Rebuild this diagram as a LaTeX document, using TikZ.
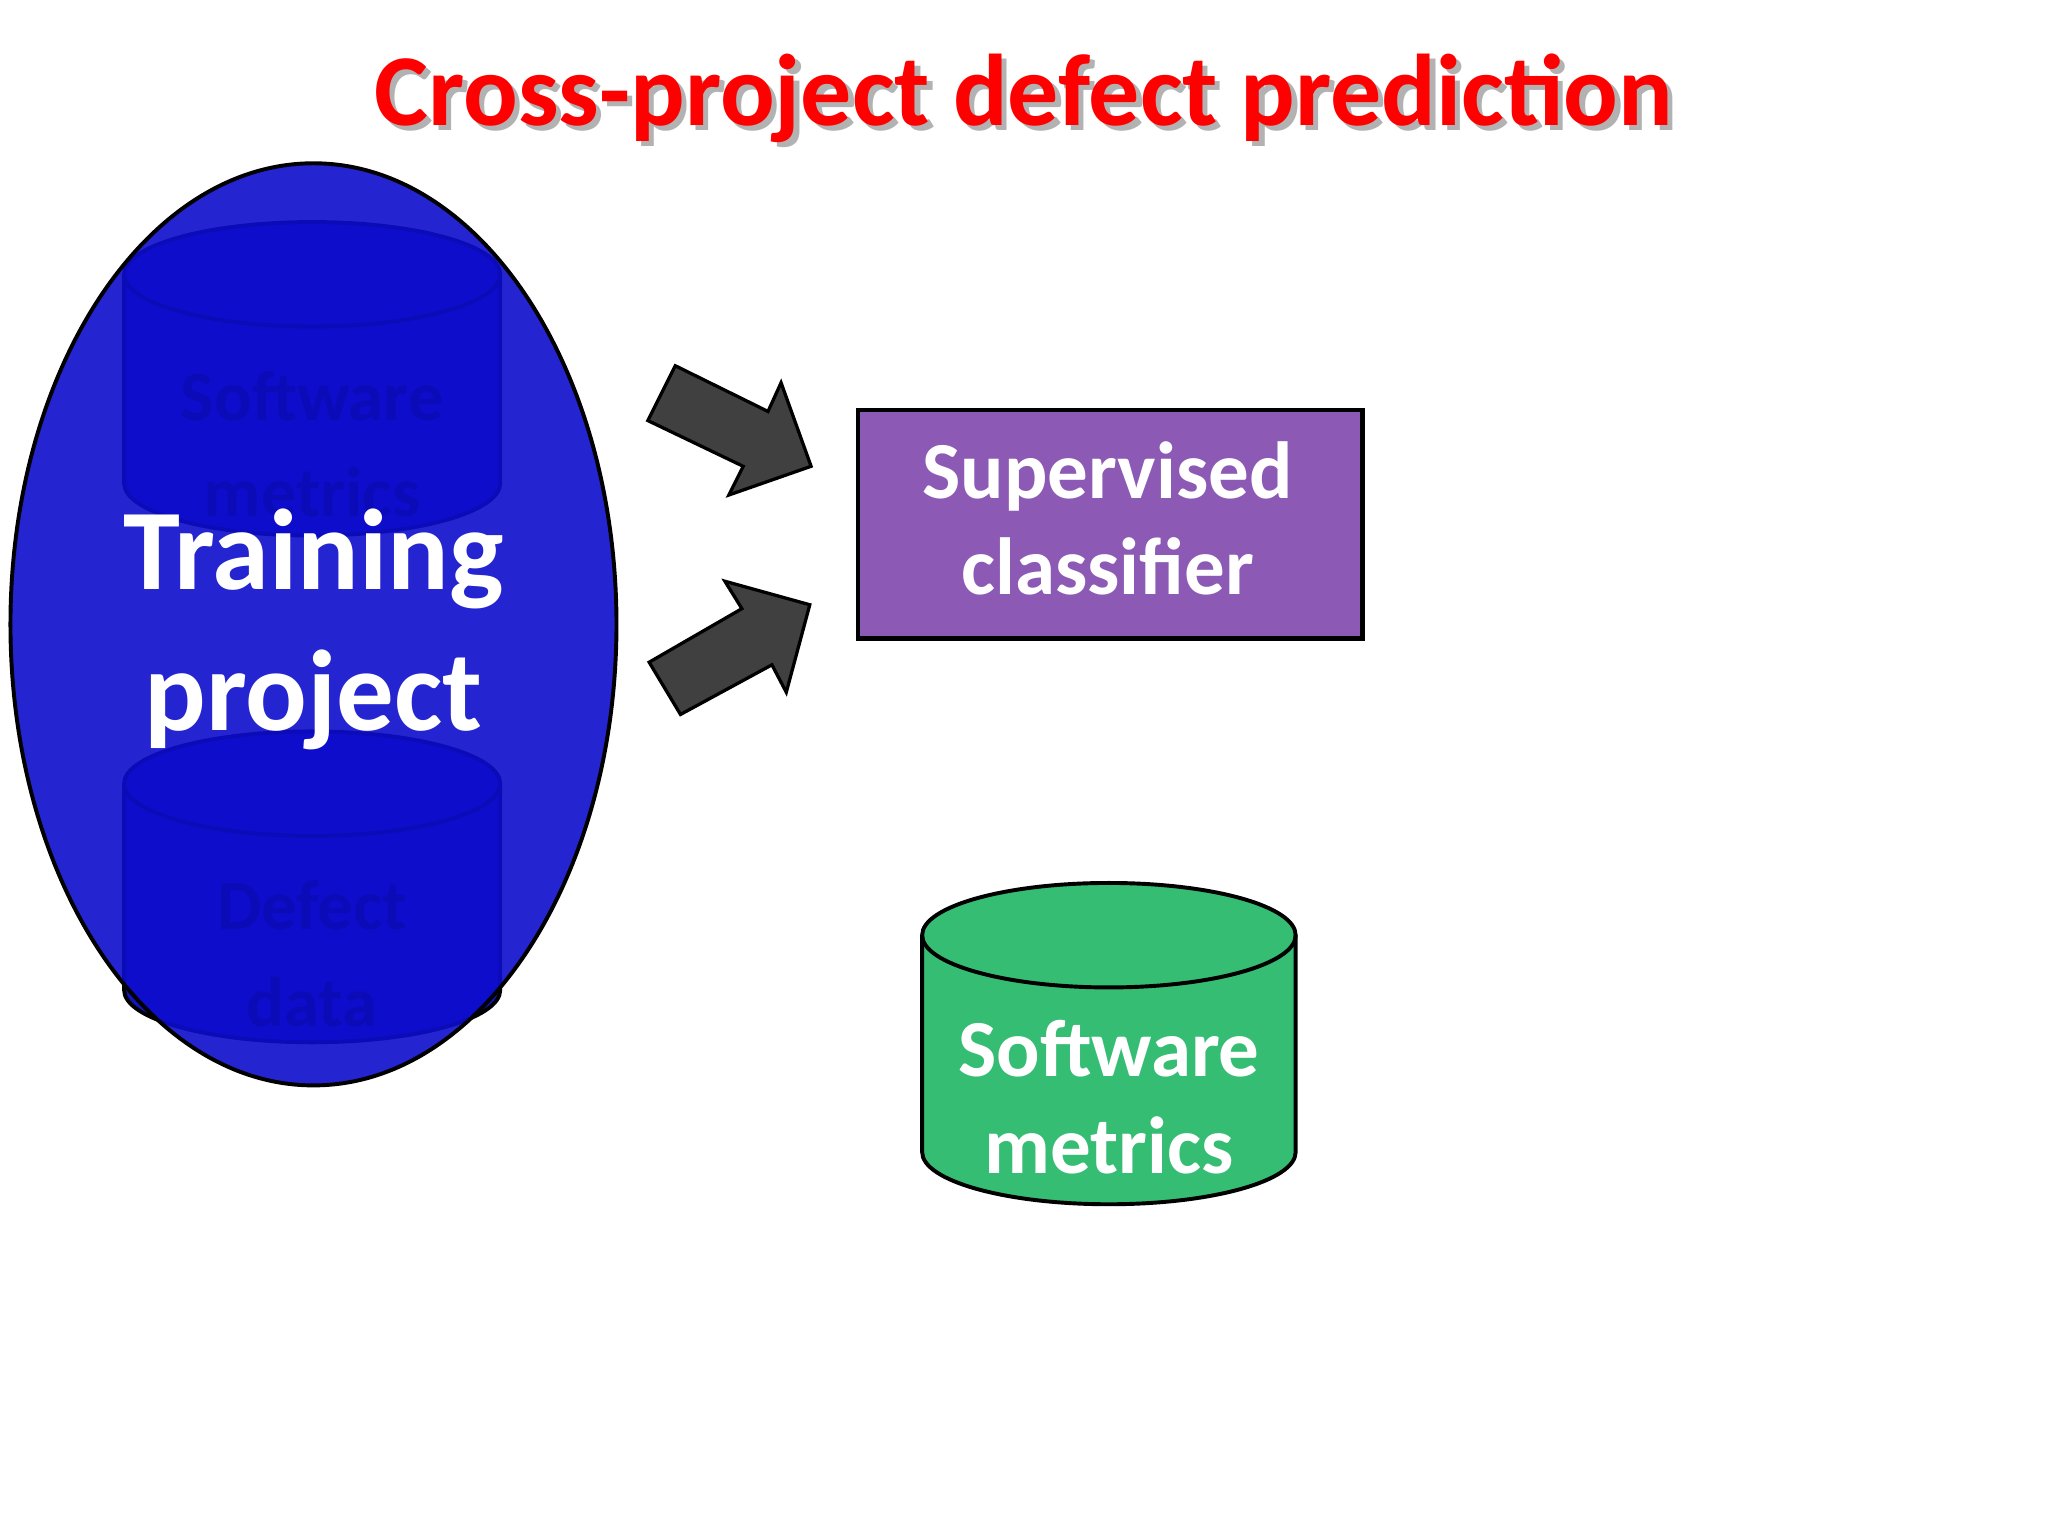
\documentclass[tikz,border=0pt]{standalone}
\usepackage{fontspec}
\setmainfont{Carlito}
\usetikzlibrary{shapes.geometric}
\definecolor{tblue}{RGB}{13,13,205}
\definecolor{cblue}{RGB}{20,20,185}
\definecolor{tpurple}{RGB}{140,90,180}
\definecolor{tgreen}{RGB}{54,189,116}
\definecolor{agray}{RGB}{64,64,64}
\tikzset{
 blockarrow/.style={fill=agray,draw=black,line width=2.5pt,line join=miter},
 cyl/.style={draw=black,line width=3pt},
 wtext/.style={text=white,font=\bfseries,align=center},
}
\begin{document}
\begin{tikzpicture}[x=1pt,y=-1pt]
\useasboundingbox[fill=white] (0,0) rectangle (1568,1176);
% title
\node[font=\bfseries\fontsize{78}{90}\selectfont,text=gray!60] (titles) at (788,79) {Cross-project defect prediction};
\node[font=\bfseries\fontsize{78}{90}\selectfont,text=red] (title) at (784,75) {Cross-project defect prediction};
% hidden cylinders
\foreach \yt/\yb/\a/\b in {210/370/Software/metrics, 600/758/Defect/data}{
 \draw[cyl,fill=cblue] (95,\yt) -- (95,\yb) arc[start angle=180,end angle=0,x radius=144,y radius=40] -- (383,\yt) arc[start angle=0,end angle=-180,x radius=144,y radius=40];
 \draw[cyl] (95,\yt) arc[start angle=180,end angle=0,x radius=144,y radius=40];
 \node[text=black,font=\bfseries\fontsize{54}{74}\selectfont,align=center] at (239,\yt+130) {\a\\\b};
}
% ellipse
\node[ellipse,draw=black,line width=3pt,fill=tblue,fill opacity=0.9,minimum width=464,minimum height=706,inner sep=0] (train) at (240,478) {};
\node[wtext,font=\bfseries\fontsize{88}{108}\selectfont] (trainl) at (240,482) {Training\\project};
% arrows
\draw[blockarrow] (517,280) -- (588,315) -- (598,293) -- (621,357) -- (558,379) -- (569,357) -- (496,322) -- cycle;
\draw[blockarrow] (497,507) -- (568,466) -- (555,445) -- (620,463) -- (602,530) -- (591,509) -- (521,547) -- cycle;
% classifier
\node[draw=black,line width=3.5pt,fill=tpurple,minimum width=386,minimum height=175,inner sep=0] (clf) at (850,401.5) {};
\node[wtext,font=\bfseries\fontsize{62}{74}\selectfont] at (848,397) {Supervised\\classifier};
% green cylinder
\draw[cyl,fill=tgreen] (706,716) -- (706,882) arc[start angle=180,end angle=0,x radius=143,y radius=40] -- (992,716) arc[start angle=0,end angle=-180,x radius=143,y radius=40];
\draw[cyl] (706,716) arc[start angle=180,end angle=0,x radius=143,y radius=40];
\node[wtext,font=\bfseries\fontsize{62}{74}\selectfont] (sm) at (849,840) {Software\\metrics};
\end{tikzpicture}
\end{document}
